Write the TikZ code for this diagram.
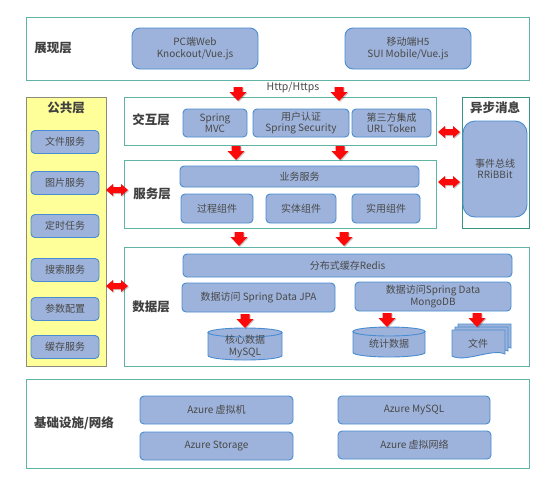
\documentclass[tikz,border=0pt]{standalone}
\usepackage{fontspec}
\setmainfont{Noto Sans CJK SC}
\definecolor{framec}{RGB}{95,180,165}
\definecolor{asyncc}{RGB}{55,150,130}
\definecolor{boxf}{RGB}{158,179,219}
\definecolor{boxb}{RGB}{72,140,210}
\definecolor{txt}{RGB}{72,72,72}
\definecolor{lbltxt}{RGB}{64,64,64}
\definecolor{pubf}{RGB}{255,255,153}
\definecolor{pubb}{RGB}{140,140,120}
\definecolor{arrred}{RGB}{250,10,10}
\begin{document}
\begin{tikzpicture}[x=1pt,y=-1pt]
\tikzset{
  frm/.style={draw=framec, line width=1pt, fill=white, inner sep=0pt},
  bx/.style={draw=boxb, fill=boxf, line width=0.9pt, rounded corners=4pt, inner sep=0pt,
    align=center, text=txt, font=\fontsize{10}{11.5}\selectfont},
  lbl/.style={font=\fontsize{12.5}{14}\selectfont\bfseries, text=lbltxt, inner sep=0pt},
  plain/.style={font=\fontsize{10}{11.5}\selectfont, text=txt, inner sep=0pt, align=center},
  cylf/.style={draw=boxb, fill=boxf, line width=0.9pt},
  pics/darr/.style={code={
    \fill[black,opacity=0.22,shift={(1,1)}] (-4.5,0) -- (4.5,0) -- (4.5,5) -- (8.5,5) -- (0,14) -- (-8.5,5) -- (-4.5,5) -- cycle;
    \fill[arrred] (-4.5,0) -- (4.5,0) -- (4.5,5) -- (8.5,5) -- (0,14) -- (-8.5,5) -- (-4.5,5) -- cycle;
  }},
  pics/dblarr/.style={code={
    \fill[black,opacity=0.22,shift={(1,1)}] (-11,0) -- (-4,-6) -- (-4,-3) -- (4,-3) -- (4,-6) -- (11,0) -- (4,6) -- (4,3) -- (-4,3) -- (-4,6) -- cycle;
    \fill[arrred] (-11,0) -- (-4,-6) -- (-4,-3) -- (4,-3) -- (4,-6) -- (11,0) -- (4,6) -- (4,3) -- (-4,3) -- (-4,6) -- cycle;
  }},
  pics/doc/.style={code={
    \filldraw[cylf] (0,0) -- (53,0) -- (53,24) .. controls (40,18) and (13,33) .. (0,26) -- cycle;
  }},
}
\useasboundingbox (0,0) rectangle (559,491);

% ---------- frames ----------
\node[frm, minimum width=503pt, minimum height=63pt] (pres) at (277.5,48.5) {};
\node[frm, minimum width=312pt, minimum height=48pt] (inter) at (280,121) {};
\node[frm, minimum width=312pt, minimum height=68pt] (serv) at (280,194) {};
\node[frm, minimum width=405pt, minimum height=119pt] (data) at (326.5,306.5) {};
\node[frm, minimum width=503pt, minimum height=89pt] (infra) at (277.5,423.5) {};
\node[draw=pubb, fill=pubf, line width=1pt, inner sep=0pt, minimum width=80pt, minimum height=269pt] (pub) at (66,231.5) {};
\node[draw=asyncc, line width=1pt, fill=white, inner sep=0pt, minimum width=67pt, minimum height=131pt] (async) at (495.5,162.5) {};

% ---------- layer labels ----------
\node[lbl] (lpres) at (53,48) {展现层};
\node[lbl] (linter) at (151,120) {交互层};
\node[lbl] (lserv) at (152,194) {服务层};
\node[lbl] (ldata) at (151,307) {数据层};
\node[lbl] (linfra) at (74,423) {基础设施/网络};
\node[lbl] (lpub) at (66,108) {公共层};
\node[lbl] (lasync) at (495,108) {异步消息};
\node[plain, font=\fontsize{10.5}{12}\selectfont] (http) at (293,88) {Http/Https};

% ---------- presentation ----------
\node[bx, rounded corners=8pt, minimum width=126pt, minimum height=41pt] (pc) at (195,48.5) {PC端Web\\Knockout/Vue.js};
\node[bx, rounded corners=8pt, minimum width=126pt, minimum height=41pt] (mob) at (408,48.5) {移动端H5\\SUI Mobile/Vue.js};

% ---------- interaction ----------
\node[bx, minimum width=64pt, minimum height=28pt] (mvc) at (215,123) {Spring\\MVC};
\node[bx, minimum width=96pt, minimum height=28pt] (auth) at (301,123) {用户认证\\Spring Security};
\node[bx, minimum width=79pt, minimum height=28pt] (third) at (391.5,123) {第三方集成\\URL Token};

% ---------- service ----------
\node[bx, minimum width=239pt, minimum height=21pt] (biz) at (299.5,176.5) {业务服务};
\node[bx, minimum width=72pt, minimum height=29pt] (proc) at (217,208.5) {过程组件};
\node[bx, minimum width=70pt, minimum height=29pt] (ent) at (301,208.5) {实体组件};
\node[bx, minimum width=68pt, minimum height=29pt] (util) at (386,208.5) {实用组件};

% ---------- data ----------
\node[bx, minimum width=329pt, minimum height=23pt] (redis) at (347.5,265.5) {分布式缓存Redis};
\node[bx, minimum width=153pt, minimum height=29pt] (jpa) at (258.5,297.5) {数据访问 Spring Data JPA};
\node[bx, minimum width=156pt, minimum height=29pt] (mongo) at (433,296.5) {数据访问Spring Data\\MongoDB};

% cylinder 1
\filldraw[cylf] (208,332.5) -- (208,355.5) arc[start angle=180, end angle=0, x radius=37, y radius=4.5] -- (282,332.5) -- cycle;
\filldraw[cylf] (245,332.5) ellipse[x radius=37, y radius=4.5];
\node[plain] (core) at (245,346.5) {核心数据\\MySQL};
% cylinder 2
\filldraw[cylf] (353,331.5) -- (353,352.5) arc[start angle=180, end angle=0, x radius=36, y radius=4.5] -- (425,331.5) -- cycle;
\filldraw[cylf] (389,331.5) ellipse[x radius=36, y radius=4.5];
\node[plain] (stat) at (389,344) {统计数据};
% documents
\pic at (458,324) {doc};
\pic at (455,327) {doc};
\pic at (452,330) {doc};
\node[plain] (file) at (478,344) {文件};

% ---------- public ----------
\foreach \nm/\yy/\tx in {p1/142/文件服务, p2/183/图片服务, p3/226/定时任务, p4/270/搜索服务, p5/309/参数配置, p6/347/缓存服务}{
  \node[bx, minimum width=68pt, minimum height=23pt] (\nm) at (65,\yy) {\tx};
}

% ---------- async ----------
\node[bx, rounded corners=12pt, minimum width=64pt, minimum height=96pt] (bus) at (495,169) {事件总线\\RRiBBit};

% ---------- infrastructure ----------
\node[bx, minimum width=153pt, minimum height=28pt] (vm) at (216.5,410) {Azure 虚拟机};
\node[bx, minimum width=153pt, minimum height=28pt] (stor) at (216.5,446) {Azure Storage};
\node[bx, minimum width=152pt, minimum height=28pt] (amysql) at (414,410) {Azure MySQL};
\node[bx, minimum width=153pt, minimum height=28pt] (vnet) at (414.5,445) {Azure 虚拟网络};

% ---------- red arrows ----------
\pic at (238,87) {darr};
\pic at (339,87) {darr};
\pic at (236,146) {darr};
\pic at (340,146) {darr};
\pic at (239,232) {darr};
\pic at (344,232) {darr};
\pic at (245,314) {darr};
\pic at (387,313) {darr};
\pic at (477,313) {darr};
\pic at (117,190) {dblarr};
\pic at (117,286) {dblarr};
\pic at (449,132) {dblarr};
\pic at (449,182) {dblarr};
\end{tikzpicture}
\end{document}
